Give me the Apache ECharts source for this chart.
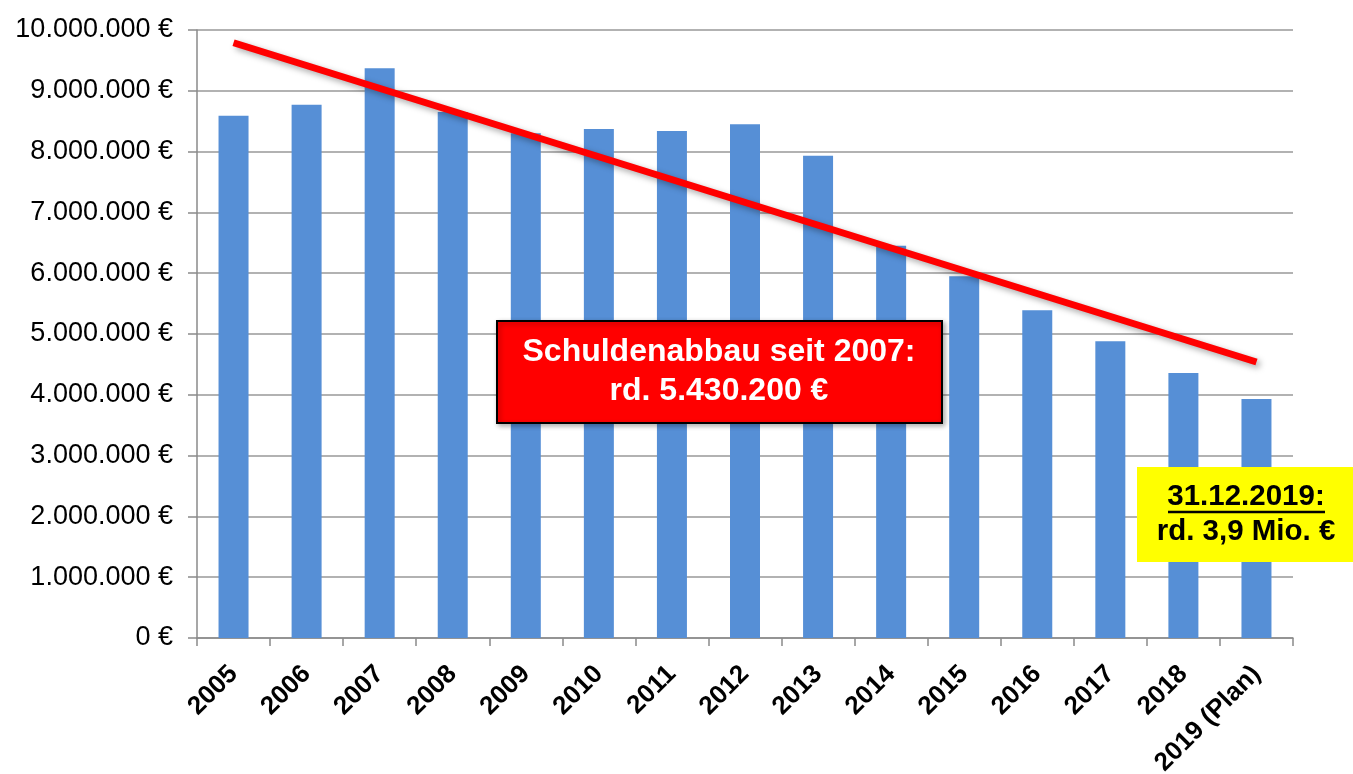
<!DOCTYPE html>
<html>
<head>
<meta charset="utf-8">
<script src="https://cdn.jsdelivr.net/npm/echarts@6/dist/echarts.min.js"></script>
<style>
  html, body { margin: 0; padding: 0; background: #fff; }
  #chart { width: 1353px; height: 774px; }
</style>
</head>
<body>
<div id="chart"></div>
<script>
// Data
var years = ['2005', '2006', '2007', '2008', '2009', '2010', '2011', '2012',
             '2013', '2014', '2015', '2016', '2017', '2018', '2019 (Plan)'];
var debt = [8590000, 8770000, 9370000, 8650000, 8300000, 8370000, 8340000, 8450000,
            7930000, 6450000, 5950000, 5390000, 4880000, 4360000, 3930000];
// trend line: only start and end points
var trend = [9790000, null, null, null, null, null, null, null,
             null, null, null, null, null, null, 4540000];

var font = "'Liberation Sans', Arial, sans-serif";

var myChart = echarts.init(document.getElementById('chart'));

// 10000000 -> "10.000.000 €"
function euro(v) {
    return String(v).replace(/\B(?=(\d{3})+(?!\d))/g, '.') + ' €';
}

var option = {
    animation: false,
    backgroundColor: '#fff',
    grid: { left: 197, right: 60, top: 30, bottom: 136, outerBoundsMode: 'none' },
    xAxis: {
        type: 'category',
        data: years,
        axisLine: { lineStyle: { color: '#8a8a8a', width: 1.5 } },
        axisTick: { show: true, length: 8, lineStyle: { color: '#8a8a8a', width: 1.5 } },
        axisLabel: {
            rotate: 45,
            margin: 32,
            interval: 0,
            color: '#000',
            fontFamily: font,
            fontWeight: 'bold',
            fontSize: 26
        }
    },
    yAxis: {
        type: 'value',
        min: 0,
        max: 10000000,
        interval: 1000000,
        axisLine: { show: true, lineStyle: { color: '#8a8a8a', width: 1.5 } },
        axisTick: { show: true, length: 9, lineStyle: { color: '#8a8a8a', width: 1.5 } },
        splitLine: { lineStyle: { color: '#999', width: 1.5 } },
        axisLabel: {
            margin: 24,
            color: '#000',
            fontFamily: font,
            fontSize: 27,
            formatter: euro
        }
    },
    series: [
        {
            name: 'Schulden',
            type: 'bar',
            data: debt,
            barWidth: 30,
            itemStyle: { color: '#568fd6' }
        },
        {
            name: 'Trend',
            type: 'line',
            data: trend,
            connectNulls: true,
            symbol: 'none',
            z: 5,
            lineStyle: {
                color: '#ff0000',
                width: 7,
                cap: 'butt',
                shadowColor: 'rgba(0,0,0,0.35)',
                shadowBlur: 6,
                shadowOffsetX: 3,
                shadowOffsetY: 3
            }
        }
    ],
    graphic: [
        {
            type: 'rect',
            z: 100,
            shape: { x: 497, y: 321, width: 445, height: 102 },
            style: {
                fill: '#ff0000',
                stroke: '#000',
                lineWidth: 2,
                shadowColor: 'rgba(0,0,0,0.3)',
                shadowBlur: 5,
                shadowOffsetX: 2,
                shadowOffsetY: 2
            }
        },
        {
            type: 'text',
            z: 101,
            x: 719,
            y: 372,
            style: {
                text: 'Schuldenabbau seit 2007:\nrd. 5.430.200 €',
                fill: '#fff',
                font: 'bold 32px ' + font,
                lineHeight: 39,
                align: 'center',
                verticalAlign: 'middle'
            }
        },
        {
            type: 'rect',
            z: 100,
            shape: { x: 1137, y: 467, width: 216, height: 95 },
            style: { fill: '#ffff00' }
        },
        {
            type: 'text',
            z: 101,
            x: 1246,
            y: 514,
            style: {
                text: '31.12.2019:\nrd. 3,9 Mio. €',
                fill: '#000',
                font: 'bold 29.5px ' + font,
                lineHeight: 35,
                align: 'center',
                verticalAlign: 'middle'
            }
        },
        {
            type: 'line',
            z: 101,
            shape: { x1: 1168, y1: 512, x2: 1325, y2: 512 },
            style: { stroke: '#000', lineWidth: 2.5 }
        }
    ]
};

myChart.setOption(option);

window.onresize = function() {
    myChart.resize();
};
</script>
</body>
</html>
